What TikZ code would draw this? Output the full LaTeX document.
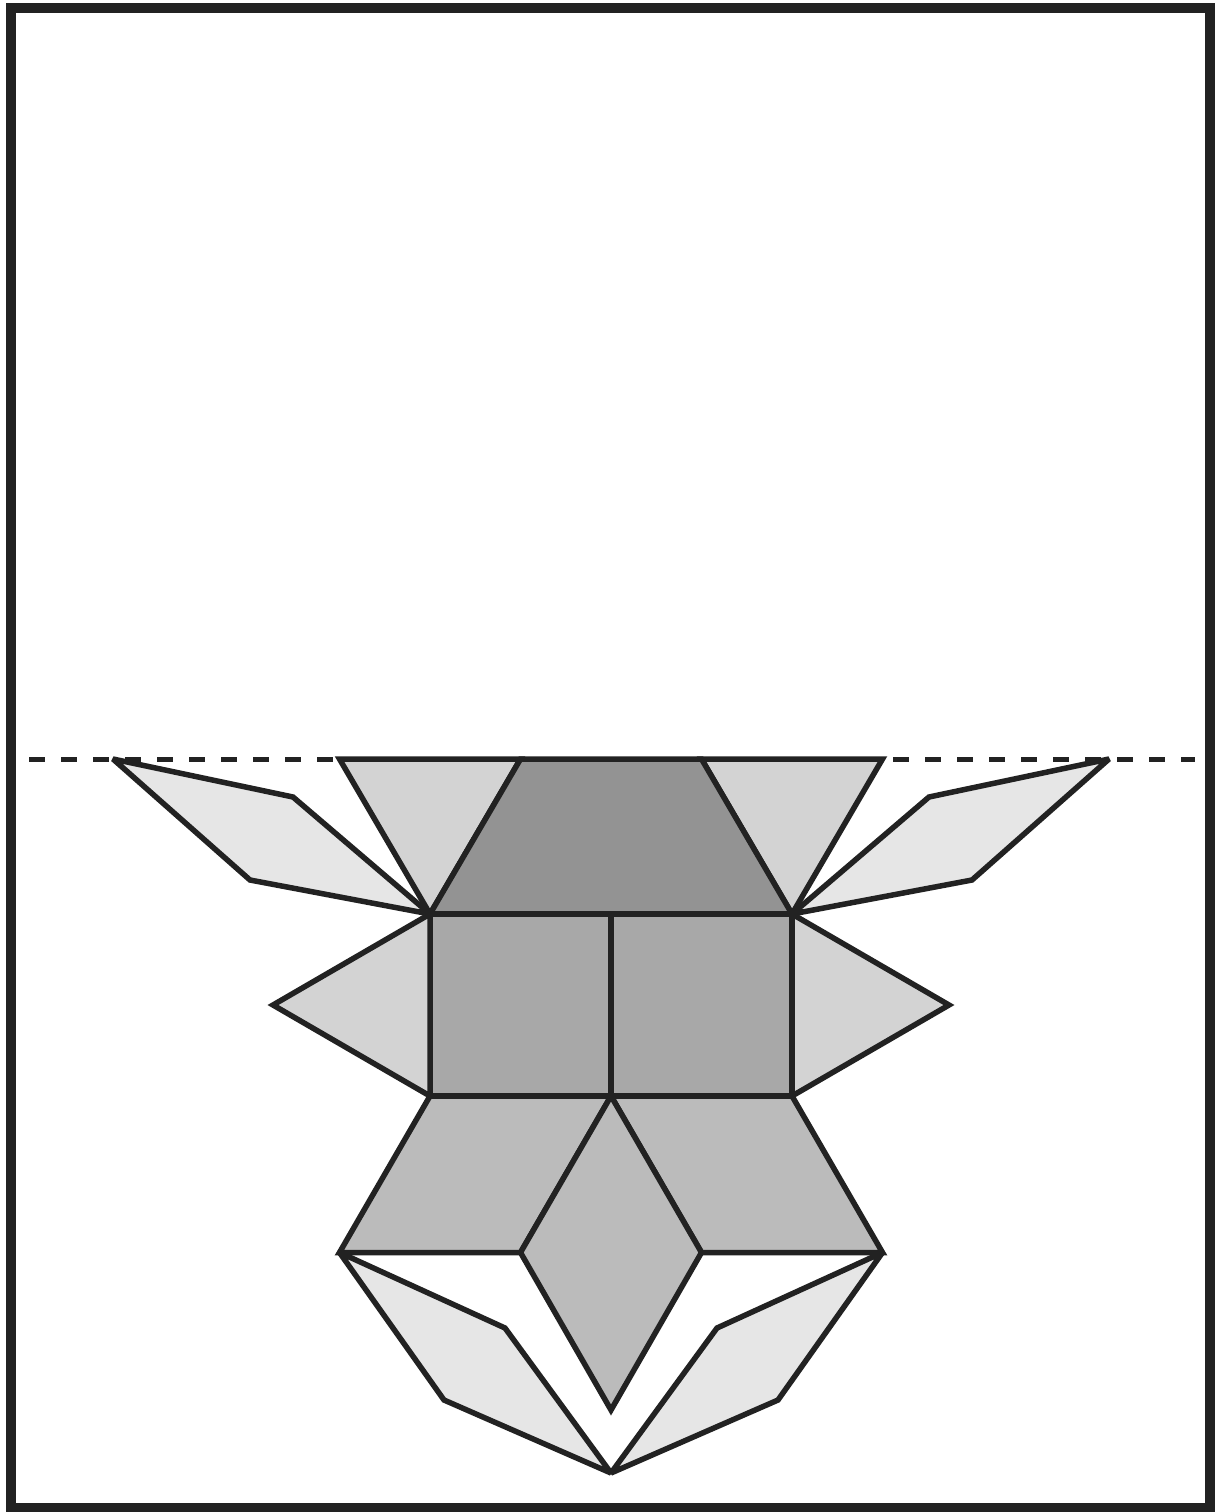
\documentclass[tikz,border=0pt]{standalone}
\definecolor{linec}{HTML}{222222}
\definecolor{trapc}{HTML}{939393}
\definecolor{tric}{HTML}{D3D3D3}
\definecolor{thinc}{HTML}{E6E6E6}
\definecolor{sqc}{HTML}{A8A8A8}
\definecolor{widec}{HTML}{BBBBBB}
\tikzset{
  piece/.style={draw=linec, line width=5.5pt, line join=miter, miter limit=3},
  trappiece/.style={piece, fill=trapc},
  tripiece/.style={piece, fill=tric},
  thinpiece/.style={piece, fill=thinc},
  sqpiece/.style={piece, fill=sqc},
  widepiece/.style={piece, fill=widec},
  framestyle/.style={draw=linec, line width=10pt},
  foldline/.style={draw=linec, line width=5pt, dash pattern=on 16pt off 16pt}
}
\begin{document}
\begin{tikzpicture}[x=1pt,y=-1pt]
\useasboundingbox (0,0) rectangle (1215,1512);
\fill[white] (0,0) rectangle (1215,1512);
\draw[framestyle] (10.5,8) rectangle (1210,1507.5);
% fold line
\draw[foldline] (29,759) -- (1195,759);
% top thin rhombi
\draw[thinpiece] (113,759) -- (293,797) -- (430,914) -- (250,880) -- cycle;
\draw[thinpiece] (1109,759) -- (929,797) -- (792,914) -- (972,880) -- cycle;
% top triangles
\draw[tripiece] (339.5,759) -- (520.5,759) -- (430,914) -- cycle;
\draw[tripiece] (701.5,759) -- (882.5,759) -- (792,914) -- cycle;
% trapezoid
\draw[trappiece] (520.5,759) -- (701.5,759) -- (792,914) -- (430,914) -- cycle;
% squares
\draw[sqpiece] (430,914) rectangle (611,1096);
\draw[sqpiece] (611,914) rectangle (792,1096);
% side triangles
\draw[tripiece] (430,914) -- (273,1005) -- (430,1096) -- cycle;
\draw[tripiece] (792,914) -- (949,1005) -- (792,1096) -- cycle;
% lower wide rhombi
\draw[widepiece] (430,1096) -- (611,1096) -- (520.5,1252.5) -- (339.5,1252.5) -- cycle;
\draw[widepiece] (611,1096) -- (792,1096) -- (882.5,1252.5) -- (701.5,1252.5) -- cycle;
\draw[widepiece] (611,1096) -- (701.5,1252.5) -- (611,1410) -- (520.5,1252.5) -- cycle;
% bottom thin rhombi
\draw[thinpiece] (339.5,1252.5) -- (505,1328) -- (611,1473) -- (444,1400) -- cycle;
\draw[thinpiece] (882.5,1252.5) -- (717,1328) -- (611,1473) -- (778,1400) -- cycle;
\end{tikzpicture}
\end{document}
